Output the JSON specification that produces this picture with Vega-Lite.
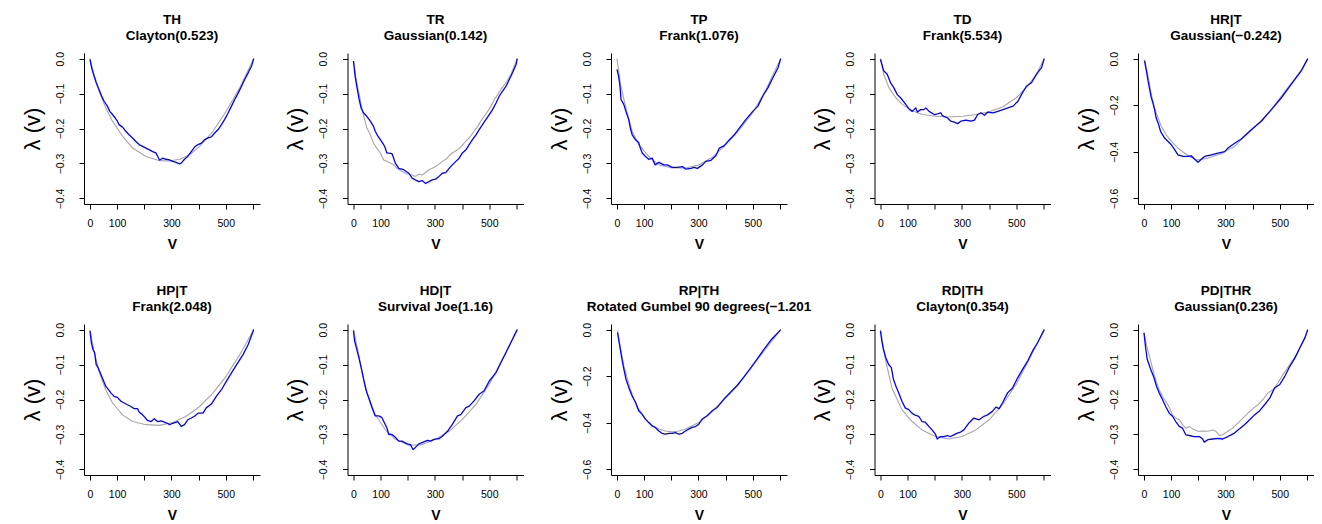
{
"$schema":"https://vega.github.io/schema/vega-lite/v6.json",
"background":"white",
"padding":{"left":21,"top":12,"right":0,"bottom":0},
"bounds":"flush",
"columns":5,
"spacing":{"row":120,"column":87.5},
"datasets":{"t":[
{"p":"TH","s":"g","v":0,"y":0},{"p":"TH","s":"g","v":15,"y":-0.045},{"p":"TH","s":"g","v":33,"y":-0.093},{"p":"TH","s":"g","v":58,"y":-0.141},{"p":"TH","s":"g","v":83,"y":-0.179},{"p":"TH","s":"g","v":120,"y":-0.222},{"p":"TH","s":"g","v":157,"y":-0.256},{"p":"TH","s":"g","v":206,"y":-0.28},{"p":"TH","s":"g","v":256,"y":-0.292},{"p":"TH","s":"g","v":293,"y":-0.293},{"p":"TH","s":"g","v":330,"y":-0.288},{"p":"TH","s":"g","v":367,"y":-0.275},{"p":"TH","s":"g","v":404,"y":-0.251},{"p":"TH","s":"g","v":453,"y":-0.208},{"p":"TH","s":"g","v":502,"y":-0.15},{"p":"TH","s":"g","v":552,"y":-0.083},{"p":"TH","s":"g","v":603,"y":0},
{"p":"TH","s":"b","v":0,"y":-0.002},{"p":"TH","s":"b","v":6,"y":-0.026},{"p":"TH","s":"b","v":15,"y":-0.05},{"p":"TH","s":"b","v":23,"y":-0.069},{"p":"TH","s":"b","v":33,"y":-0.088},{"p":"TH","s":"b","v":43,"y":-0.107},{"p":"TH","s":"b","v":52,"y":-0.122},{"p":"TH","s":"b","v":64,"y":-0.136},{"p":"TH","s":"b","v":73,"y":-0.151},{"p":"TH","s":"b","v":83,"y":-0.16},{"p":"TH","s":"b","v":93,"y":-0.17},{"p":"TH","s":"b","v":101,"y":-0.179},{"p":"TH","s":"b","v":107,"y":-0.189},{"p":"TH","s":"b","v":120,"y":-0.196},{"p":"TH","s":"b","v":132,"y":-0.208},{"p":"TH","s":"b","v":144,"y":-0.218},{"p":"TH","s":"b","v":157,"y":-0.227},{"p":"TH","s":"b","v":169,"y":-0.237},{"p":"TH","s":"b","v":181,"y":-0.246},{"p":"TH","s":"b","v":194,"y":-0.251},{"p":"TH","s":"b","v":206,"y":-0.256},{"p":"TH","s":"b","v":219,"y":-0.261},{"p":"TH","s":"b","v":231,"y":-0.266},{"p":"TH","s":"b","v":243,"y":-0.27},{"p":"TH","s":"b","v":256,"y":-0.29},{"p":"TH","s":"b","v":268,"y":-0.285},{"p":"TH","s":"b","v":280,"y":-0.288},{"p":"TH","s":"b","v":293,"y":-0.29},{"p":"TH","s":"b","v":305,"y":-0.294},{"p":"TH","s":"b","v":317,"y":-0.297},{"p":"TH","s":"b","v":330,"y":-0.301},{"p":"TH","s":"b","v":336,"y":-0.299},{"p":"TH","s":"b","v":348,"y":-0.288},{"p":"TH","s":"b","v":360,"y":-0.28},{"p":"TH","s":"b","v":373,"y":-0.266},{"p":"TH","s":"b","v":385,"y":-0.253},{"p":"TH","s":"b","v":398,"y":-0.246},{"p":"TH","s":"b","v":410,"y":-0.242},{"p":"TH","s":"b","v":422,"y":-0.232},{"p":"TH","s":"b","v":435,"y":-0.227},{"p":"TH","s":"b","v":447,"y":-0.224},{"p":"TH","s":"b","v":459,"y":-0.213},{"p":"TH","s":"b","v":472,"y":-0.203},{"p":"TH","s":"b","v":484,"y":-0.189},{"p":"TH","s":"b","v":496,"y":-0.174},{"p":"TH","s":"b","v":509,"y":-0.155},{"p":"TH","s":"b","v":521,"y":-0.136},{"p":"TH","s":"b","v":533,"y":-0.117},{"p":"TH","s":"b","v":546,"y":-0.098},{"p":"TH","s":"b","v":558,"y":-0.079},{"p":"TH","s":"b","v":570,"y":-0.059},{"p":"TH","s":"b","v":583,"y":-0.04},{"p":"TH","s":"b","v":595,"y":-0.021},{"p":"TH","s":"b","v":603,"y":0},
{"p":"TR","s":"g","v":0,"y":-0.007},{"p":"TR","s":"g","v":12,"y":-0.069},{"p":"TR","s":"g","v":25,"y":-0.117},{"p":"TR","s":"g","v":33,"y":-0.151},{"p":"TR","s":"g","v":41,"y":-0.174},{"p":"TR","s":"g","v":49,"y":-0.198},{"p":"TR","s":"g","v":62,"y":-0.218},{"p":"TR","s":"g","v":74,"y":-0.242},{"p":"TR","s":"g","v":86,"y":-0.256},{"p":"TR","s":"g","v":99,"y":-0.27},{"p":"TR","s":"g","v":111,"y":-0.29},{"p":"TR","s":"g","v":123,"y":-0.294},{"p":"TR","s":"g","v":136,"y":-0.299},{"p":"TR","s":"g","v":148,"y":-0.304},{"p":"TR","s":"g","v":160,"y":-0.314},{"p":"TR","s":"g","v":179,"y":-0.323},{"p":"TR","s":"g","v":198,"y":-0.33},{"p":"TR","s":"g","v":216,"y":-0.333},{"p":"TR","s":"g","v":228,"y":-0.337},{"p":"TR","s":"g","v":241,"y":-0.33},{"p":"TR","s":"g","v":253,"y":-0.333},{"p":"TR","s":"g","v":265,"y":-0.326},{"p":"TR","s":"g","v":278,"y":-0.318},{"p":"TR","s":"g","v":290,"y":-0.314},{"p":"TR","s":"g","v":302,"y":-0.309},{"p":"TR","s":"g","v":315,"y":-0.302},{"p":"TR","s":"g","v":327,"y":-0.294},{"p":"TR","s":"g","v":340,"y":-0.288},{"p":"TR","s":"g","v":352,"y":-0.278},{"p":"TR","s":"g","v":364,"y":-0.27},{"p":"TR","s":"g","v":383,"y":-0.261},{"p":"TR","s":"g","v":395,"y":-0.253},{"p":"TR","s":"g","v":407,"y":-0.242},{"p":"TR","s":"g","v":420,"y":-0.232},{"p":"TR","s":"g","v":432,"y":-0.221},{"p":"TR","s":"g","v":444,"y":-0.208},{"p":"TR","s":"g","v":457,"y":-0.194},{"p":"TR","s":"g","v":469,"y":-0.179},{"p":"TR","s":"g","v":481,"y":-0.165},{"p":"TR","s":"g","v":494,"y":-0.151},{"p":"TR","s":"g","v":506,"y":-0.136},{"p":"TR","s":"g","v":519,"y":-0.117},{"p":"TR","s":"g","v":531,"y":-0.103},{"p":"TR","s":"g","v":543,"y":-0.088},{"p":"TR","s":"g","v":562,"y":-0.069},{"p":"TR","s":"g","v":580,"y":-0.045},{"p":"TR","s":"g","v":603,"y":0},
{"p":"TR","s":"b","v":0,"y":-0.007},{"p":"TR","s":"b","v":6,"y":-0.05},{"p":"TR","s":"b","v":12,"y":-0.079},{"p":"TR","s":"b","v":21,"y":-0.117},{"p":"TR","s":"b","v":28,"y":-0.141},{"p":"TR","s":"b","v":37,"y":-0.155},{"p":"TR","s":"b","v":49,"y":-0.165},{"p":"TR","s":"b","v":62,"y":-0.179},{"p":"TR","s":"b","v":74,"y":-0.194},{"p":"TR","s":"b","v":80,"y":-0.208},{"p":"TR","s":"b","v":90,"y":-0.222},{"p":"TR","s":"b","v":99,"y":-0.232},{"p":"TR","s":"b","v":111,"y":-0.246},{"p":"TR","s":"b","v":117,"y":-0.256},{"p":"TR","s":"b","v":123,"y":-0.27},{"p":"TR","s":"b","v":142,"y":-0.272},{"p":"TR","s":"b","v":148,"y":-0.285},{"p":"TR","s":"b","v":154,"y":-0.299},{"p":"TR","s":"b","v":167,"y":-0.314},{"p":"TR","s":"b","v":185,"y":-0.318},{"p":"TR","s":"b","v":204,"y":-0.328},{"p":"TR","s":"b","v":216,"y":-0.342},{"p":"TR","s":"b","v":228,"y":-0.347},{"p":"TR","s":"b","v":241,"y":-0.352},{"p":"TR","s":"b","v":253,"y":-0.349},{"p":"TR","s":"b","v":265,"y":-0.357},{"p":"TR","s":"b","v":278,"y":-0.352},{"p":"TR","s":"b","v":290,"y":-0.347},{"p":"TR","s":"b","v":302,"y":-0.345},{"p":"TR","s":"b","v":315,"y":-0.337},{"p":"TR","s":"b","v":327,"y":-0.328},{"p":"TR","s":"b","v":340,"y":-0.326},{"p":"TR","s":"b","v":352,"y":-0.314},{"p":"TR","s":"b","v":364,"y":-0.304},{"p":"TR","s":"b","v":377,"y":-0.294},{"p":"TR","s":"b","v":389,"y":-0.285},{"p":"TR","s":"b","v":401,"y":-0.27},{"p":"TR","s":"b","v":414,"y":-0.261},{"p":"TR","s":"b","v":426,"y":-0.246},{"p":"TR","s":"b","v":438,"y":-0.232},{"p":"TR","s":"b","v":451,"y":-0.218},{"p":"TR","s":"b","v":463,"y":-0.203},{"p":"TR","s":"b","v":475,"y":-0.189},{"p":"TR","s":"b","v":488,"y":-0.174},{"p":"TR","s":"b","v":500,"y":-0.16},{"p":"TR","s":"b","v":512,"y":-0.146},{"p":"TR","s":"b","v":525,"y":-0.127},{"p":"TR","s":"b","v":537,"y":-0.107},{"p":"TR","s":"b","v":549,"y":-0.093},{"p":"TR","s":"b","v":562,"y":-0.079},{"p":"TR","s":"b","v":574,"y":-0.059},{"p":"TR","s":"b","v":586,"y":-0.04},{"p":"TR","s":"b","v":599,"y":-0.016},{"p":"TR","s":"b","v":603,"y":0},
{"p":"TP","s":"g","v":0,"y":0},{"p":"TP","s":"g","v":12,"y":-0.069},{"p":"TP","s":"g","v":31,"y":-0.136},{"p":"TP","s":"g","v":56,"y":-0.208},{"p":"TP","s":"g","v":80,"y":-0.246},{"p":"TP","s":"g","v":117,"y":-0.28},{"p":"TP","s":"g","v":154,"y":-0.304},{"p":"TP","s":"g","v":204,"y":-0.313},{"p":"TP","s":"g","v":253,"y":-0.313},{"p":"TP","s":"g","v":302,"y":-0.304},{"p":"TP","s":"g","v":352,"y":-0.282},{"p":"TP","s":"g","v":401,"y":-0.246},{"p":"TP","s":"g","v":451,"y":-0.203},{"p":"TP","s":"g","v":500,"y":-0.155},{"p":"TP","s":"g","v":549,"y":-0.088},{"p":"TP","s":"g","v":603,"y":0},
{"p":"TP","s":"b","v":0,"y":-0.031},{"p":"TP","s":"b","v":6,"y":-0.05},{"p":"TP","s":"b","v":11,"y":-0.079},{"p":"TP","s":"b","v":15,"y":-0.117},{"p":"TP","s":"b","v":25,"y":-0.131},{"p":"TP","s":"b","v":33,"y":-0.151},{"p":"TP","s":"b","v":43,"y":-0.174},{"p":"TP","s":"b","v":49,"y":-0.198},{"p":"TP","s":"b","v":56,"y":-0.218},{"p":"TP","s":"b","v":68,"y":-0.232},{"p":"TP","s":"b","v":80,"y":-0.24},{"p":"TP","s":"b","v":86,"y":-0.256},{"p":"TP","s":"b","v":93,"y":-0.27},{"p":"TP","s":"b","v":105,"y":-0.28},{"p":"TP","s":"b","v":117,"y":-0.288},{"p":"TP","s":"b","v":130,"y":-0.285},{"p":"TP","s":"b","v":140,"y":-0.304},{"p":"TP","s":"b","v":154,"y":-0.297},{"p":"TP","s":"b","v":173,"y":-0.304},{"p":"TP","s":"b","v":185,"y":-0.304},{"p":"TP","s":"b","v":204,"y":-0.311},{"p":"TP","s":"b","v":222,"y":-0.311},{"p":"TP","s":"b","v":241,"y":-0.309},{"p":"TP","s":"b","v":253,"y":-0.316},{"p":"TP","s":"b","v":272,"y":-0.314},{"p":"TP","s":"b","v":284,"y":-0.311},{"p":"TP","s":"b","v":296,"y":-0.314},{"p":"TP","s":"b","v":315,"y":-0.304},{"p":"TP","s":"b","v":327,"y":-0.294},{"p":"TP","s":"b","v":346,"y":-0.291},{"p":"TP","s":"b","v":364,"y":-0.278},{"p":"TP","s":"b","v":377,"y":-0.256},{"p":"TP","s":"b","v":395,"y":-0.249},{"p":"TP","s":"b","v":414,"y":-0.232},{"p":"TP","s":"b","v":432,"y":-0.218},{"p":"TP","s":"b","v":451,"y":-0.198},{"p":"TP","s":"b","v":475,"y":-0.174},{"p":"TP","s":"b","v":500,"y":-0.151},{"p":"TP","s":"b","v":519,"y":-0.136},{"p":"TP","s":"b","v":537,"y":-0.107},{"p":"TP","s":"b","v":556,"y":-0.083},{"p":"TP","s":"b","v":574,"y":-0.055},{"p":"TP","s":"b","v":593,"y":-0.026},{"p":"TP","s":"b","v":603,"y":0},
{"p":"TD","s":"g","v":0,"y":0},{"p":"TD","s":"g","v":12,"y":-0.045},{"p":"TD","s":"g","v":31,"y":-0.083},{"p":"TD","s":"g","v":56,"y":-0.112},{"p":"TD","s":"g","v":80,"y":-0.131},{"p":"TD","s":"g","v":117,"y":-0.149},{"p":"TD","s":"g","v":154,"y":-0.16},{"p":"TD","s":"g","v":204,"y":-0.165},{"p":"TD","s":"g","v":253,"y":-0.167},{"p":"TD","s":"g","v":302,"y":-0.165},{"p":"TD","s":"g","v":352,"y":-0.16},{"p":"TD","s":"g","v":401,"y":-0.152},{"p":"TD","s":"g","v":451,"y":-0.138},{"p":"TD","s":"g","v":500,"y":-0.112},{"p":"TD","s":"g","v":537,"y":-0.083},{"p":"TD","s":"g","v":574,"y":-0.045},{"p":"TD","s":"g","v":603,"y":0},
{"p":"TD","s":"b","v":0,"y":-0.002},{"p":"TD","s":"b","v":12,"y":-0.035},{"p":"TD","s":"b","v":25,"y":-0.045},{"p":"TD","s":"b","v":37,"y":-0.069},{"p":"TD","s":"b","v":49,"y":-0.083},{"p":"TD","s":"b","v":62,"y":-0.103},{"p":"TD","s":"b","v":74,"y":-0.112},{"p":"TD","s":"b","v":93,"y":-0.131},{"p":"TD","s":"b","v":105,"y":-0.144},{"p":"TD","s":"b","v":117,"y":-0.151},{"p":"TD","s":"b","v":130,"y":-0.141},{"p":"TD","s":"b","v":136,"y":-0.153},{"p":"TD","s":"b","v":148,"y":-0.146},{"p":"TD","s":"b","v":160,"y":-0.146},{"p":"TD","s":"b","v":167,"y":-0.141},{"p":"TD","s":"b","v":179,"y":-0.151},{"p":"TD","s":"b","v":198,"y":-0.16},{"p":"TD","s":"b","v":210,"y":-0.158},{"p":"TD","s":"b","v":222,"y":-0.155},{"p":"TD","s":"b","v":228,"y":-0.163},{"p":"TD","s":"b","v":247,"y":-0.17},{"p":"TD","s":"b","v":259,"y":-0.179},{"p":"TD","s":"b","v":272,"y":-0.182},{"p":"TD","s":"b","v":284,"y":-0.186},{"p":"TD","s":"b","v":296,"y":-0.179},{"p":"TD","s":"b","v":315,"y":-0.176},{"p":"TD","s":"b","v":333,"y":-0.179},{"p":"TD","s":"b","v":346,"y":-0.176},{"p":"TD","s":"b","v":358,"y":-0.16},{"p":"TD","s":"b","v":370,"y":-0.155},{"p":"TD","s":"b","v":383,"y":-0.162},{"p":"TD","s":"b","v":395,"y":-0.153},{"p":"TD","s":"b","v":414,"y":-0.155},{"p":"TD","s":"b","v":432,"y":-0.151},{"p":"TD","s":"b","v":451,"y":-0.146},{"p":"TD","s":"b","v":469,"y":-0.141},{"p":"TD","s":"b","v":488,"y":-0.136},{"p":"TD","s":"b","v":506,"y":-0.122},{"p":"TD","s":"b","v":519,"y":-0.103},{"p":"TD","s":"b","v":537,"y":-0.079},{"p":"TD","s":"b","v":556,"y":-0.069},{"p":"TD","s":"b","v":574,"y":-0.045},{"p":"TD","s":"b","v":593,"y":-0.026},{"p":"TD","s":"b","v":603,"y":0},
{"p":"HRT","s":"g","v":2,"y":-0.003},{"p":"HRT","s":"g","v":15,"y":-0.075},{"p":"HRT","s":"g","v":27,"y":-0.154},{"p":"HRT","s":"g","v":39,"y":-0.212},{"p":"HRT","s":"g","v":52,"y":-0.255},{"p":"HRT","s":"g","v":64,"y":-0.291},{"p":"HRT","s":"g","v":82,"y":-0.327},{"p":"HRT","s":"g","v":101,"y":-0.355},{"p":"HRT","s":"g","v":125,"y":-0.384},{"p":"HRT","s":"g","v":150,"y":-0.406},{"p":"HRT","s":"g","v":174,"y":-0.423},{"p":"HRT","s":"g","v":193,"y":-0.435},{"p":"HRT","s":"g","v":211,"y":-0.432},{"p":"HRT","s":"g","v":236,"y":-0.427},{"p":"HRT","s":"g","v":260,"y":-0.417},{"p":"HRT","s":"g","v":285,"y":-0.409},{"p":"HRT","s":"g","v":309,"y":-0.391},{"p":"HRT","s":"g","v":334,"y":-0.377},{"p":"HRT","s":"g","v":358,"y":-0.348},{"p":"HRT","s":"g","v":395,"y":-0.308},{"p":"HRT","s":"g","v":432,"y":-0.265},{"p":"HRT","s":"g","v":469,"y":-0.219},{"p":"HRT","s":"g","v":506,"y":-0.161},{"p":"HRT","s":"g","v":542,"y":-0.106},{"p":"HRT","s":"g","v":579,"y":-0.049},{"p":"HRT","s":"g","v":603,"y":0},
{"p":"HRT","s":"b","v":2,"y":-0.01},{"p":"HRT","s":"b","v":9,"y":-0.053},{"p":"HRT","s":"b","v":15,"y":-0.096},{"p":"HRT","s":"b","v":21,"y":-0.132},{"p":"HRT","s":"b","v":27,"y":-0.168},{"p":"HRT","s":"b","v":33,"y":-0.19},{"p":"HRT","s":"b","v":39,"y":-0.219},{"p":"HRT","s":"b","v":45,"y":-0.255},{"p":"HRT","s":"b","v":52,"y":-0.276},{"p":"HRT","s":"b","v":61,"y":-0.312},{"p":"HRT","s":"b","v":76,"y":-0.341},{"p":"HRT","s":"b","v":88,"y":-0.355},{"p":"HRT","s":"b","v":101,"y":-0.37},{"p":"HRT","s":"b","v":113,"y":-0.391},{"p":"HRT","s":"b","v":125,"y":-0.413},{"p":"HRT","s":"b","v":144,"y":-0.42},{"p":"HRT","s":"b","v":162,"y":-0.42},{"p":"HRT","s":"b","v":174,"y":-0.417},{"p":"HRT","s":"b","v":187,"y":-0.432},{"p":"HRT","s":"b","v":199,"y":-0.445},{"p":"HRT","s":"b","v":211,"y":-0.432},{"p":"HRT","s":"b","v":223,"y":-0.42},{"p":"HRT","s":"b","v":248,"y":-0.413},{"p":"HRT","s":"b","v":272,"y":-0.406},{"p":"HRT","s":"b","v":297,"y":-0.399},{"p":"HRT","s":"b","v":309,"y":-0.384},{"p":"HRT","s":"b","v":334,"y":-0.363},{"p":"HRT","s":"b","v":358,"y":-0.345},{"p":"HRT","s":"b","v":395,"y":-0.305},{"p":"HRT","s":"b","v":432,"y":-0.269},{"p":"HRT","s":"b","v":469,"y":-0.219},{"p":"HRT","s":"b","v":506,"y":-0.168},{"p":"HRT","s":"b","v":542,"y":-0.111},{"p":"HRT","s":"b","v":579,"y":-0.053},{"p":"HRT","s":"b","v":603,"y":0},
{"p":"HPT","s":"g","v":0,"y":0},{"p":"HPT","s":"g","v":15,"y":-0.061},{"p":"HPT","s":"g","v":33,"y":-0.119},{"p":"HPT","s":"g","v":58,"y":-0.172},{"p":"HPT","s":"g","v":83,"y":-0.21},{"p":"HPT","s":"g","v":120,"y":-0.244},{"p":"HPT","s":"g","v":157,"y":-0.263},{"p":"HPT","s":"g","v":206,"y":-0.272},{"p":"HPT","s":"g","v":256,"y":-0.274},{"p":"HPT","s":"g","v":305,"y":-0.266},{"p":"HPT","s":"g","v":354,"y":-0.248},{"p":"HPT","s":"g","v":404,"y":-0.22},{"p":"HPT","s":"g","v":453,"y":-0.181},{"p":"HPT","s":"g","v":502,"y":-0.133},{"p":"HPT","s":"g","v":552,"y":-0.071},{"p":"HPT","s":"g","v":603,"y":0},
{"p":"HPT","s":"b","v":0,"y":-0.004},{"p":"HPT","s":"b","v":5,"y":-0.037},{"p":"HPT","s":"b","v":11,"y":-0.057},{"p":"HPT","s":"b","v":17,"y":-0.066},{"p":"HPT","s":"b","v":23,"y":-0.1},{"p":"HPT","s":"b","v":30,"y":-0.109},{"p":"HPT","s":"b","v":40,"y":-0.128},{"p":"HPT","s":"b","v":48,"y":-0.143},{"p":"HPT","s":"b","v":58,"y":-0.162},{"p":"HPT","s":"b","v":68,"y":-0.172},{"p":"HPT","s":"b","v":77,"y":-0.181},{"p":"HPT","s":"b","v":89,"y":-0.191},{"p":"HPT","s":"b","v":101,"y":-0.194},{"p":"HPT","s":"b","v":114,"y":-0.205},{"p":"HPT","s":"b","v":126,"y":-0.21},{"p":"HPT","s":"b","v":138,"y":-0.215},{"p":"HPT","s":"b","v":151,"y":-0.22},{"p":"HPT","s":"b","v":163,"y":-0.226},{"p":"HPT","s":"b","v":175,"y":-0.226},{"p":"HPT","s":"b","v":181,"y":-0.236},{"p":"HPT","s":"b","v":194,"y":-0.244},{"p":"HPT","s":"b","v":212,"y":-0.26},{"p":"HPT","s":"b","v":225,"y":-0.263},{"p":"HPT","s":"b","v":237,"y":-0.255},{"p":"HPT","s":"b","v":249,"y":-0.263},{"p":"HPT","s":"b","v":262,"y":-0.261},{"p":"HPT","s":"b","v":274,"y":-0.265},{"p":"HPT","s":"b","v":286,"y":-0.268},{"p":"HPT","s":"b","v":293,"y":-0.272},{"p":"HPT","s":"b","v":305,"y":-0.268},{"p":"HPT","s":"b","v":323,"y":-0.263},{"p":"HPT","s":"b","v":336,"y":-0.277},{"p":"HPT","s":"b","v":348,"y":-0.272},{"p":"HPT","s":"b","v":360,"y":-0.258},{"p":"HPT","s":"b","v":373,"y":-0.253},{"p":"HPT","s":"b","v":385,"y":-0.248},{"p":"HPT","s":"b","v":398,"y":-0.239},{"p":"HPT","s":"b","v":416,"y":-0.239},{"p":"HPT","s":"b","v":428,"y":-0.224},{"p":"HPT","s":"b","v":447,"y":-0.213},{"p":"HPT","s":"b","v":465,"y":-0.191},{"p":"HPT","s":"b","v":484,"y":-0.172},{"p":"HPT","s":"b","v":502,"y":-0.148},{"p":"HPT","s":"b","v":521,"y":-0.124},{"p":"HPT","s":"b","v":540,"y":-0.1},{"p":"HPT","s":"b","v":564,"y":-0.071},{"p":"HPT","s":"b","v":583,"y":-0.042},{"p":"HPT","s":"b","v":603,"y":0},
{"p":"HDT","s":"g","v":0,"y":0},{"p":"HDT","s":"g","v":19,"y":-0.07},{"p":"HDT","s":"g","v":43,"y":-0.166},{"p":"HDT","s":"g","v":80,"y":-0.243},{"p":"HDT","s":"g","v":117,"y":-0.286},{"p":"HDT","s":"g","v":154,"y":-0.314},{"p":"HDT","s":"g","v":204,"y":-0.331},{"p":"HDT","s":"g","v":253,"y":-0.329},{"p":"HDT","s":"g","v":302,"y":-0.314},{"p":"HDT","s":"g","v":352,"y":-0.291},{"p":"HDT","s":"g","v":401,"y":-0.257},{"p":"HDT","s":"g","v":451,"y":-0.214},{"p":"HDT","s":"g","v":500,"y":-0.156},{"p":"HDT","s":"g","v":549,"y":-0.084},{"p":"HDT","s":"g","v":603,"y":0},
{"p":"HDT","s":"b","v":0,"y":-0.003},{"p":"HDT","s":"b","v":4,"y":-0.032},{"p":"HDT","s":"b","v":12,"y":-0.056},{"p":"HDT","s":"b","v":21,"y":-0.084},{"p":"HDT","s":"b","v":31,"y":-0.118},{"p":"HDT","s":"b","v":40,"y":-0.151},{"p":"HDT","s":"b","v":49,"y":-0.18},{"p":"HDT","s":"b","v":56,"y":-0.195},{"p":"HDT","s":"b","v":68,"y":-0.223},{"p":"HDT","s":"b","v":80,"y":-0.247},{"p":"HDT","s":"b","v":93,"y":-0.247},{"p":"HDT","s":"b","v":105,"y":-0.252},{"p":"HDT","s":"b","v":111,"y":-0.262},{"p":"HDT","s":"b","v":123,"y":-0.281},{"p":"HDT","s":"b","v":130,"y":-0.3},{"p":"HDT","s":"b","v":142,"y":-0.3},{"p":"HDT","s":"b","v":154,"y":-0.308},{"p":"HDT","s":"b","v":167,"y":-0.319},{"p":"HDT","s":"b","v":179,"y":-0.319},{"p":"HDT","s":"b","v":198,"y":-0.327},{"p":"HDT","s":"b","v":210,"y":-0.329},{"p":"HDT","s":"b","v":219,"y":-0.343},{"p":"HDT","s":"b","v":228,"y":-0.337},{"p":"HDT","s":"b","v":241,"y":-0.327},{"p":"HDT","s":"b","v":259,"y":-0.321},{"p":"HDT","s":"b","v":272,"y":-0.317},{"p":"HDT","s":"b","v":284,"y":-0.319},{"p":"HDT","s":"b","v":296,"y":-0.314},{"p":"HDT","s":"b","v":315,"y":-0.312},{"p":"HDT","s":"b","v":327,"y":-0.305},{"p":"HDT","s":"b","v":346,"y":-0.291},{"p":"HDT","s":"b","v":364,"y":-0.271},{"p":"HDT","s":"b","v":383,"y":-0.247},{"p":"HDT","s":"b","v":395,"y":-0.243},{"p":"HDT","s":"b","v":414,"y":-0.223},{"p":"HDT","s":"b","v":426,"y":-0.219},{"p":"HDT","s":"b","v":444,"y":-0.204},{"p":"HDT","s":"b","v":463,"y":-0.185},{"p":"HDT","s":"b","v":481,"y":-0.175},{"p":"HDT","s":"b","v":500,"y":-0.147},{"p":"HDT","s":"b","v":525,"y":-0.123},{"p":"HDT","s":"b","v":543,"y":-0.094},{"p":"HDT","s":"b","v":562,"y":-0.065},{"p":"HDT","s":"b","v":580,"y":-0.036},{"p":"HDT","s":"b","v":603,"y":0},
{"p":"RPTH","s":"g","v":2,"y":-0.003},{"p":"RPTH","s":"g","v":12,"y":-0.075},{"p":"RPTH","s":"g","v":25,"y":-0.154},{"p":"RPTH","s":"g","v":37,"y":-0.204},{"p":"RPTH","s":"g","v":49,"y":-0.255},{"p":"RPTH","s":"g","v":62,"y":-0.298},{"p":"RPTH","s":"g","v":80,"y":-0.341},{"p":"RPTH","s":"g","v":105,"y":-0.384},{"p":"RPTH","s":"g","v":129,"y":-0.41},{"p":"RPTH","s":"g","v":154,"y":-0.427},{"p":"RPTH","s":"g","v":178,"y":-0.435},{"p":"RPTH","s":"g","v":203,"y":-0.439},{"p":"RPTH","s":"g","v":228,"y":-0.435},{"p":"RPTH","s":"g","v":252,"y":-0.427},{"p":"RPTH","s":"g","v":277,"y":-0.413},{"p":"RPTH","s":"g","v":301,"y":-0.399},{"p":"RPTH","s":"g","v":332,"y":-0.37},{"p":"RPTH","s":"g","v":369,"y":-0.329},{"p":"RPTH","s":"g","v":418,"y":-0.272},{"p":"RPTH","s":"g","v":467,"y":-0.204},{"p":"RPTH","s":"g","v":529,"y":-0.111},{"p":"RPTH","s":"g","v":603,"y":0},
{"p":"RPTH","s":"b","v":2,"y":-0.013},{"p":"RPTH","s":"b","v":10,"y":-0.068},{"p":"RPTH","s":"b","v":18,"y":-0.125},{"p":"RPTH","s":"b","v":25,"y":-0.168},{"p":"RPTH","s":"b","v":33,"y":-0.212},{"p":"RPTH","s":"b","v":43,"y":-0.247},{"p":"RPTH","s":"b","v":55,"y":-0.283},{"p":"RPTH","s":"b","v":68,"y":-0.312},{"p":"RPTH","s":"b","v":80,"y":-0.348},{"p":"RPTH","s":"b","v":92,"y":-0.363},{"p":"RPTH","s":"b","v":105,"y":-0.384},{"p":"RPTH","s":"b","v":117,"y":-0.399},{"p":"RPTH","s":"b","v":129,"y":-0.413},{"p":"RPTH","s":"b","v":141,"y":-0.42},{"p":"RPTH","s":"b","v":154,"y":-0.435},{"p":"RPTH","s":"b","v":166,"y":-0.445},{"p":"RPTH","s":"b","v":178,"y":-0.449},{"p":"RPTH","s":"b","v":191,"y":-0.445},{"p":"RPTH","s":"b","v":203,"y":-0.445},{"p":"RPTH","s":"b","v":215,"y":-0.442},{"p":"RPTH","s":"b","v":228,"y":-0.449},{"p":"RPTH","s":"b","v":240,"y":-0.445},{"p":"RPTH","s":"b","v":252,"y":-0.435},{"p":"RPTH","s":"b","v":264,"y":-0.427},{"p":"RPTH","s":"b","v":277,"y":-0.42},{"p":"RPTH","s":"b","v":289,"y":-0.416},{"p":"RPTH","s":"b","v":301,"y":-0.406},{"p":"RPTH","s":"b","v":314,"y":-0.384},{"p":"RPTH","s":"b","v":332,"y":-0.37},{"p":"RPTH","s":"b","v":351,"y":-0.348},{"p":"RPTH","s":"b","v":369,"y":-0.334},{"p":"RPTH","s":"b","v":394,"y":-0.298},{"p":"RPTH","s":"b","v":418,"y":-0.269},{"p":"RPTH","s":"b","v":443,"y":-0.24},{"p":"RPTH","s":"b","v":467,"y":-0.204},{"p":"RPTH","s":"b","v":492,"y":-0.165},{"p":"RPTH","s":"b","v":517,"y":-0.125},{"p":"RPTH","s":"b","v":541,"y":-0.085},{"p":"RPTH","s":"b","v":566,"y":-0.046},{"p":"RPTH","s":"b","v":603,"y":0},
{"p":"RDTH","s":"g","v":0,"y":0},{"p":"RDTH","s":"g","v":17,"y":-0.081},{"p":"RDTH","s":"g","v":42,"y":-0.167},{"p":"RDTH","s":"g","v":79,"y":-0.229},{"p":"RDTH","s":"g","v":116,"y":-0.263},{"p":"RDTH","s":"g","v":153,"y":-0.287},{"p":"RDTH","s":"g","v":202,"y":-0.306},{"p":"RDTH","s":"g","v":252,"y":-0.313},{"p":"RDTH","s":"g","v":301,"y":-0.306},{"p":"RDTH","s":"g","v":351,"y":-0.287},{"p":"RDTH","s":"g","v":400,"y":-0.258},{"p":"RDTH","s":"g","v":449,"y":-0.215},{"p":"RDTH","s":"g","v":499,"y":-0.157},{"p":"RDTH","s":"g","v":548,"y":-0.085},{"p":"RDTH","s":"g","v":603,"y":0},
{"p":"RDTH","s":"b","v":0,"y":-0.004},{"p":"RDTH","s":"b","v":5,"y":-0.033},{"p":"RDTH","s":"b","v":11,"y":-0.057},{"p":"RDTH","s":"b","v":20,"y":-0.081},{"p":"RDTH","s":"b","v":30,"y":-0.1},{"p":"RDTH","s":"b","v":40,"y":-0.109},{"p":"RDTH","s":"b","v":48,"y":-0.143},{"p":"RDTH","s":"b","v":57,"y":-0.162},{"p":"RDTH","s":"b","v":67,"y":-0.181},{"p":"RDTH","s":"b","v":79,"y":-0.205},{"p":"RDTH","s":"b","v":91,"y":-0.224},{"p":"RDTH","s":"b","v":104,"y":-0.229},{"p":"RDTH","s":"b","v":116,"y":-0.239},{"p":"RDTH","s":"b","v":128,"y":-0.245},{"p":"RDTH","s":"b","v":141,"y":-0.248},{"p":"RDTH","s":"b","v":153,"y":-0.263},{"p":"RDTH","s":"b","v":165,"y":-0.265},{"p":"RDTH","s":"b","v":178,"y":-0.277},{"p":"RDTH","s":"b","v":190,"y":-0.287},{"p":"RDTH","s":"b","v":202,"y":-0.299},{"p":"RDTH","s":"b","v":209,"y":-0.313},{"p":"RDTH","s":"b","v":221,"y":-0.306},{"p":"RDTH","s":"b","v":233,"y":-0.306},{"p":"RDTH","s":"b","v":246,"y":-0.303},{"p":"RDTH","s":"b","v":258,"y":-0.306},{"p":"RDTH","s":"b","v":270,"y":-0.301},{"p":"RDTH","s":"b","v":283,"y":-0.296},{"p":"RDTH","s":"b","v":295,"y":-0.293},{"p":"RDTH","s":"b","v":307,"y":-0.287},{"p":"RDTH","s":"b","v":326,"y":-0.267},{"p":"RDTH","s":"b","v":344,"y":-0.253},{"p":"RDTH","s":"b","v":363,"y":-0.258},{"p":"RDTH","s":"b","v":381,"y":-0.248},{"p":"RDTH","s":"b","v":394,"y":-0.244},{"p":"RDTH","s":"b","v":412,"y":-0.234},{"p":"RDTH","s":"b","v":425,"y":-0.222},{"p":"RDTH","s":"b","v":437,"y":-0.226},{"p":"RDTH","s":"b","v":449,"y":-0.21},{"p":"RDTH","s":"b","v":468,"y":-0.181},{"p":"RDTH","s":"b","v":486,"y":-0.167},{"p":"RDTH","s":"b","v":505,"y":-0.138},{"p":"RDTH","s":"b","v":523,"y":-0.114},{"p":"RDTH","s":"b","v":542,"y":-0.09},{"p":"RDTH","s":"b","v":560,"y":-0.061},{"p":"RDTH","s":"b","v":579,"y":-0.037},{"p":"RDTH","s":"b","v":603,"y":0},
{"p":"PDTHR","s":"g","v":0,"y":-0.009},{"p":"PDTHR","s":"g","v":12,"y":-0.052},{"p":"PDTHR","s":"g","v":25,"y":-0.09},{"p":"PDTHR","s":"g","v":37,"y":-0.128},{"p":"PDTHR","s":"g","v":56,"y":-0.172},{"p":"PDTHR","s":"g","v":68,"y":-0.191},{"p":"PDTHR","s":"g","v":80,"y":-0.205},{"p":"PDTHR","s":"g","v":93,"y":-0.222},{"p":"PDTHR","s":"g","v":105,"y":-0.244},{"p":"PDTHR","s":"g","v":117,"y":-0.253},{"p":"PDTHR","s":"g","v":130,"y":-0.258},{"p":"PDTHR","s":"g","v":142,"y":-0.272},{"p":"PDTHR","s":"g","v":154,"y":-0.282},{"p":"PDTHR","s":"g","v":167,"y":-0.277},{"p":"PDTHR","s":"g","v":179,"y":-0.284},{"p":"PDTHR","s":"g","v":198,"y":-0.291},{"p":"PDTHR","s":"g","v":216,"y":-0.29},{"p":"PDTHR","s":"g","v":235,"y":-0.291},{"p":"PDTHR","s":"g","v":253,"y":-0.287},{"p":"PDTHR","s":"g","v":265,"y":-0.291},{"p":"PDTHR","s":"g","v":278,"y":-0.303},{"p":"PDTHR","s":"g","v":290,"y":-0.301},{"p":"PDTHR","s":"g","v":309,"y":-0.291},{"p":"PDTHR","s":"g","v":327,"y":-0.282},{"p":"PDTHR","s":"g","v":346,"y":-0.267},{"p":"PDTHR","s":"g","v":364,"y":-0.253},{"p":"PDTHR","s":"g","v":383,"y":-0.239},{"p":"PDTHR","s":"g","v":401,"y":-0.226},{"p":"PDTHR","s":"g","v":420,"y":-0.215},{"p":"PDTHR","s":"g","v":438,"y":-0.2},{"p":"PDTHR","s":"g","v":457,"y":-0.181},{"p":"PDTHR","s":"g","v":475,"y":-0.172},{"p":"PDTHR","s":"g","v":494,"y":-0.152},{"p":"PDTHR","s":"g","v":512,"y":-0.128},{"p":"PDTHR","s":"g","v":537,"y":-0.1},{"p":"PDTHR","s":"g","v":562,"y":-0.071},{"p":"PDTHR","s":"g","v":586,"y":-0.033},{"p":"PDTHR","s":"g","v":603,"y":0},
{"p":"PDTHR","s":"b","v":0,"y":-0.009},{"p":"PDTHR","s":"b","v":6,"y":-0.052},{"p":"PDTHR","s":"b","v":12,"y":-0.085},{"p":"PDTHR","s":"b","v":25,"y":-0.114},{"p":"PDTHR","s":"b","v":37,"y":-0.138},{"p":"PDTHR","s":"b","v":46,"y":-0.162},{"p":"PDTHR","s":"b","v":56,"y":-0.181},{"p":"PDTHR","s":"b","v":68,"y":-0.2},{"p":"PDTHR","s":"b","v":80,"y":-0.22},{"p":"PDTHR","s":"b","v":93,"y":-0.239},{"p":"PDTHR","s":"b","v":105,"y":-0.248},{"p":"PDTHR","s":"b","v":117,"y":-0.263},{"p":"PDTHR","s":"b","v":130,"y":-0.277},{"p":"PDTHR","s":"b","v":142,"y":-0.282},{"p":"PDTHR","s":"b","v":154,"y":-0.301},{"p":"PDTHR","s":"b","v":167,"y":-0.303},{"p":"PDTHR","s":"b","v":185,"y":-0.306},{"p":"PDTHR","s":"b","v":204,"y":-0.306},{"p":"PDTHR","s":"b","v":216,"y":-0.313},{"p":"PDTHR","s":"b","v":222,"y":-0.322},{"p":"PDTHR","s":"b","v":235,"y":-0.315},{"p":"PDTHR","s":"b","v":253,"y":-0.313},{"p":"PDTHR","s":"b","v":272,"y":-0.311},{"p":"PDTHR","s":"b","v":290,"y":-0.313},{"p":"PDTHR","s":"b","v":309,"y":-0.306},{"p":"PDTHR","s":"b","v":321,"y":-0.301},{"p":"PDTHR","s":"b","v":333,"y":-0.296},{"p":"PDTHR","s":"b","v":352,"y":-0.284},{"p":"PDTHR","s":"b","v":370,"y":-0.272},{"p":"PDTHR","s":"b","v":389,"y":-0.258},{"p":"PDTHR","s":"b","v":407,"y":-0.244},{"p":"PDTHR","s":"b","v":426,"y":-0.232},{"p":"PDTHR","s":"b","v":444,"y":-0.215},{"p":"PDTHR","s":"b","v":463,"y":-0.196},{"p":"PDTHR","s":"b","v":481,"y":-0.167},{"p":"PDTHR","s":"b","v":500,"y":-0.157},{"p":"PDTHR","s":"b","v":519,"y":-0.133},{"p":"PDTHR","s":"b","v":537,"y":-0.105},{"p":"PDTHR","s":"b","v":556,"y":-0.081},{"p":"PDTHR","s":"b","v":574,"y":-0.052},{"p":"PDTHR","s":"b","v":593,"y":-0.023},{"p":"PDTHR","s":"b","v":603,"y":0}
]},
"data":{"name":"t"},
"concat":[
{"title":{"text":["TH","Clayton(0.523)"]},"width":176,"height":151,"transform":[{"filter":"datum.p=='TH'"}],"mark":{"type":"line","strokeJoin":"round"},
 "encoding":{"x":{"field":"v","type":"quantitative","scale":{"domain":[-22,626],"nice":false,"zero":false},"axis":{"values":[0,100,200,300,400,500,600],"labelExpr":"datum.value==200||datum.value==400||datum.value==600?'':datum.label","title":"V"}},
 "y":{"field":"y","type":"quantitative","scale":{"domain":[-0.416,0.016],"nice":false,"zero":false},"axis":{"values":[0,-0.1,-0.2,-0.3,-0.4],"format":".1f","title":"λ (v)"}},
 "color":{"field":"s","type":"nominal","scale":{"domain":["g","b"],"range":["#a6a6a6","#0000ff"]},"legend":null},
 "strokeWidth":{"field":"s","type":"ordinal","scale":{"domain":["g","b"],"range":[1.1,1.3]},"legend":null}}},
{"title":{"text":["TR","Gaussian(0.142)"]},"width":176,"height":151,"transform":[{"filter":"datum.p=='TR'"}],"mark":{"type":"line","strokeJoin":"round"},
 "encoding":{"x":{"field":"v","type":"quantitative","scale":{"domain":[-22,626],"nice":false,"zero":false},"axis":{"values":[0,100,200,300,400,500,600],"labelExpr":"datum.value==200||datum.value==400||datum.value==600?'':datum.label","title":"V"}},
 "y":{"field":"y","type":"quantitative","scale":{"domain":[-0.416,0.016],"nice":false,"zero":false},"axis":{"values":[0,-0.1,-0.2,-0.3,-0.4],"format":".1f","title":"λ (v)"}},
 "color":{"field":"s","type":"nominal","scale":{"domain":["g","b"],"range":["#a6a6a6","#0000ff"]},"legend":null},
 "strokeWidth":{"field":"s","type":"ordinal","scale":{"domain":["g","b"],"range":[1.1,1.3]},"legend":null}}},
{"title":{"text":["TP","Frank(1.076)"]},"width":176,"height":151,"transform":[{"filter":"datum.p=='TP'"}],"mark":{"type":"line","strokeJoin":"round"},
 "encoding":{"x":{"field":"v","type":"quantitative","scale":{"domain":[-22,626],"nice":false,"zero":false},"axis":{"values":[0,100,200,300,400,500,600],"labelExpr":"datum.value==200||datum.value==400||datum.value==600?'':datum.label","title":"V"}},
 "y":{"field":"y","type":"quantitative","scale":{"domain":[-0.416,0.016],"nice":false,"zero":false},"axis":{"values":[0,-0.1,-0.2,-0.3,-0.4],"format":".1f","title":"λ (v)"}},
 "color":{"field":"s","type":"nominal","scale":{"domain":["g","b"],"range":["#a6a6a6","#0000ff"]},"legend":null},
 "strokeWidth":{"field":"s","type":"ordinal","scale":{"domain":["g","b"],"range":[1.1,1.3]},"legend":null}}},
{"title":{"text":["TD","Frank(5.534)"]},"width":176,"height":151,"transform":[{"filter":"datum.p=='TD'"}],"mark":{"type":"line","strokeJoin":"round"},
 "encoding":{"x":{"field":"v","type":"quantitative","scale":{"domain":[-22,626],"nice":false,"zero":false},"axis":{"values":[0,100,200,300,400,500,600],"labelExpr":"datum.value==200||datum.value==400||datum.value==600?'':datum.label","title":"V"}},
 "y":{"field":"y","type":"quantitative","scale":{"domain":[-0.416,0.016],"nice":false,"zero":false},"axis":{"values":[0,-0.1,-0.2,-0.3,-0.4],"format":".1f","title":"λ (v)"}},
 "color":{"field":"s","type":"nominal","scale":{"domain":["g","b"],"range":["#a6a6a6","#0000ff"]},"legend":null},
 "strokeWidth":{"field":"s","type":"ordinal","scale":{"domain":["g","b"],"range":[1.1,1.3]},"legend":null}}},
{"title":{"text":["HR|T","Gaussian(−0.242)"]},"width":176,"height":151,"transform":[{"filter":"datum.p=='HRT'"}],"mark":{"type":"line","strokeJoin":"round"},
 "encoding":{"x":{"field":"v","type":"quantitative","scale":{"domain":[-22,626],"nice":false,"zero":false},"axis":{"values":[0,100,200,300,400,500,600],"labelExpr":"datum.value==200||datum.value==400||datum.value==600?'':datum.label","title":"V"}},
 "y":{"field":"y","type":"quantitative","scale":{"domain":[-0.624,0.024],"nice":false,"zero":false},"axis":{"values":[0,-0.2,-0.4,-0.6],"format":".1f","title":"λ (v)"}},
 "color":{"field":"s","type":"nominal","scale":{"domain":["g","b"],"range":["#a6a6a6","#0000ff"]},"legend":null},
 "strokeWidth":{"field":"s","type":"ordinal","scale":{"domain":["g","b"],"range":[1.1,1.3]},"legend":null}}},
{"title":{"text":["HP|T","Frank(2.048)"]},"width":176,"height":151,"transform":[{"filter":"datum.p=='HPT'"}],"mark":{"type":"line","strokeJoin":"round"},
 "encoding":{"x":{"field":"v","type":"quantitative","scale":{"domain":[-22,626],"nice":false,"zero":false},"axis":{"values":[0,100,200,300,400,500,600],"labelExpr":"datum.value==200||datum.value==400||datum.value==600?'':datum.label","title":"V"}},
 "y":{"field":"y","type":"quantitative","scale":{"domain":[-0.416,0.016],"nice":false,"zero":false},"axis":{"values":[0,-0.1,-0.2,-0.3,-0.4],"format":".1f","title":"λ (v)"}},
 "color":{"field":"s","type":"nominal","scale":{"domain":["g","b"],"range":["#a6a6a6","#0000ff"]},"legend":null},
 "strokeWidth":{"field":"s","type":"ordinal","scale":{"domain":["g","b"],"range":[1.1,1.3]},"legend":null}}},
{"title":{"text":["HD|T","Survival Joe(1.16)"]},"width":176,"height":151,"transform":[{"filter":"datum.p=='HDT'"}],"mark":{"type":"line","strokeJoin":"round"},
 "encoding":{"x":{"field":"v","type":"quantitative","scale":{"domain":[-22,626],"nice":false,"zero":false},"axis":{"values":[0,100,200,300,400,500,600],"labelExpr":"datum.value==200||datum.value==400||datum.value==600?'':datum.label","title":"V"}},
 "y":{"field":"y","type":"quantitative","scale":{"domain":[-0.416,0.016],"nice":false,"zero":false},"axis":{"values":[0,-0.1,-0.2,-0.3,-0.4],"format":".1f","title":"λ (v)"}},
 "color":{"field":"s","type":"nominal","scale":{"domain":["g","b"],"range":["#a6a6a6","#0000ff"]},"legend":null},
 "strokeWidth":{"field":"s","type":"ordinal","scale":{"domain":["g","b"],"range":[1.1,1.3]},"legend":null}}},
{"title":{"text":["RP|TH","Rotated Gumbel 90 degrees(−1.201"]},"width":176,"height":151,"transform":[{"filter":"datum.p=='RPTH'"}],"mark":{"type":"line","strokeJoin":"round"},
 "encoding":{"x":{"field":"v","type":"quantitative","scale":{"domain":[-22,626],"nice":false,"zero":false},"axis":{"values":[0,100,200,300,400,500,600],"labelExpr":"datum.value==200||datum.value==400||datum.value==600?'':datum.label","title":"V"}},
 "y":{"field":"y","type":"quantitative","scale":{"domain":[-0.624,0.024],"nice":false,"zero":false},"axis":{"values":[0,-0.2,-0.4,-0.6],"format":".1f","title":"λ (v)"}},
 "color":{"field":"s","type":"nominal","scale":{"domain":["g","b"],"range":["#a6a6a6","#0000ff"]},"legend":null},
 "strokeWidth":{"field":"s","type":"ordinal","scale":{"domain":["g","b"],"range":[1.1,1.3]},"legend":null}}},
{"title":{"text":["RD|TH","Clayton(0.354)"]},"width":176,"height":151,"transform":[{"filter":"datum.p=='RDTH'"}],"mark":{"type":"line","strokeJoin":"round"},
 "encoding":{"x":{"field":"v","type":"quantitative","scale":{"domain":[-22,626],"nice":false,"zero":false},"axis":{"values":[0,100,200,300,400,500,600],"labelExpr":"datum.value==200||datum.value==400||datum.value==600?'':datum.label","title":"V"}},
 "y":{"field":"y","type":"quantitative","scale":{"domain":[-0.416,0.016],"nice":false,"zero":false},"axis":{"values":[0,-0.1,-0.2,-0.3,-0.4],"format":".1f","title":"λ (v)"}},
 "color":{"field":"s","type":"nominal","scale":{"domain":["g","b"],"range":["#a6a6a6","#0000ff"]},"legend":null},
 "strokeWidth":{"field":"s","type":"ordinal","scale":{"domain":["g","b"],"range":[1.1,1.3]},"legend":null}}},
{"title":{"text":["PD|THR","Gaussian(0.236)"]},"width":176,"height":151,"transform":[{"filter":"datum.p=='PDTHR'"}],"mark":{"type":"line","strokeJoin":"round"},
 "encoding":{"x":{"field":"v","type":"quantitative","scale":{"domain":[-22,626],"nice":false,"zero":false},"axis":{"values":[0,100,200,300,400,500,600],"labelExpr":"datum.value==200||datum.value==400||datum.value==600?'':datum.label","title":"V"}},
 "y":{"field":"y","type":"quantitative","scale":{"domain":[-0.416,0.016],"nice":false,"zero":false},"axis":{"values":[0,-0.1,-0.2,-0.3,-0.4],"format":".1f","title":"λ (v)"}},
 "color":{"field":"s","type":"nominal","scale":{"domain":["g","b"],"range":["#a6a6a6","#0000ff"]},"legend":null},
 "strokeWidth":{"field":"s","type":"ordinal","scale":{"domain":["g","b"],"range":[1.1,1.3]},"legend":null}}}
],
"config":{
 "view":{"stroke":null},
 "font":"Liberation Sans",
 "axis":{"grid":false,"domainColor":"#000","tickColor":"#000","labelColor":"#000","titleColor":"#000","tickSize":5,"domainWidth":1,"tickWidth":1,"labelFont":"Liberation Sans","titleFont":"Liberation Sans"},
 "axisX":{"labelFontSize":10.5,"labelPadding":9,"titleFontSize":14,"titleFontWeight":"bold","titlePadding":9},
 "axisY":{"labelFontSize":10.5,"labelAngle":-90,"labelPadding":14,"titleFontSize":22,"titleFontWeight":"normal","titlePadding":11},
 "title":{"font":"Liberation Sans","fontSize":13.5,"fontWeight":"bold","lineHeight":16,"offset":9,"frame":"group","anchor":"middle","color":"#000"}
}
}
